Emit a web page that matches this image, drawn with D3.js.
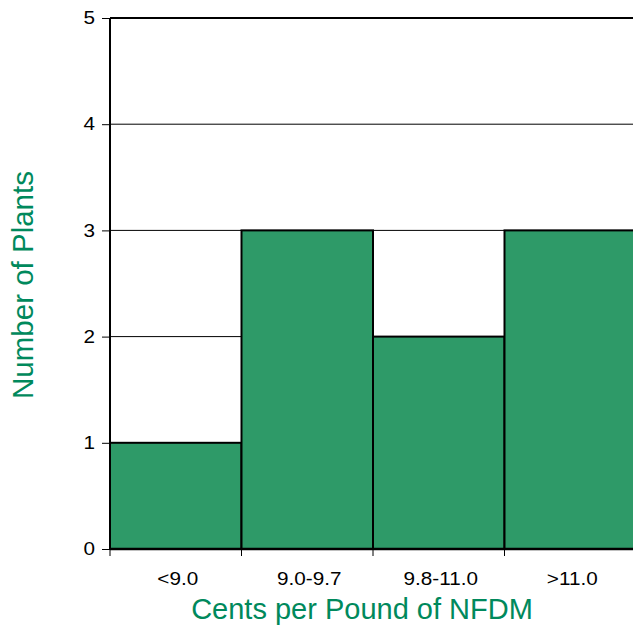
<!DOCTYPE html>
<html><head><meta charset="utf-8">
<script src="https://cdn.jsdelivr.net/npm/d3@7"></script>
<style>body{margin:0;background:#fff;}svg{display:block;font-family:"Liberation Sans",Arial,sans-serif;}</style>
</head><body>
<svg id="c" width="633" height="626"></svg>
<script>
const categories = ["<9.0", "9.0-9.7", "9.8-11.0", ">11.0"];
const values = [1, 3, 2, 3];
const yTicks = [0, 1, 2, 3, 4, 5];

const svg = d3.select("#c");
const L = 110, R = 636, T = 18, B = 549;
const x = d3.scaleBand().domain(categories).range([L, R]).padding(0);
const y = d3.scaleLinear().domain([0, 5]).range([B, T]);
const FONT = "Liberation Sans, Arial, sans-serif";

// gridlines
svg.append("g").selectAll("line").data(yTicks.filter(d => d > 0)).join("line")
  .attr("x1", L).attr("x2", R).attr("y1", d => y(d)).attr("y2", d => y(d))
  .attr("stroke", "#000").attr("stroke-width", d => d === 5 ? 2 : 1);

// bars
svg.append("g").selectAll("rect").data(values).join("rect")
  .attr("x", (d, i) => x(categories[i]))
  .attr("y", d => y(d))
  .attr("width", x.bandwidth())
  .attr("height", d => B - y(d))
  .attr("fill", "#2e9a68")
  .attr("stroke", "#000").attr("stroke-width", 2);

// left axis line
svg.append("line").attr("x1", L).attr("x2", L).attr("y1", T).attr("y2", B)
  .attr("stroke", "#000").attr("stroke-width", 2);

// y axis
const ya = svg.append("g").attr("transform", `translate(${L},0)`)
  .call(d3.axisLeft(y).tickValues(yTicks).tickSize(8).tickPadding(0).tickFormat(d3.format("d")));
ya.select(".domain").remove();
ya.selectAll("text").attr("x", null).attr("font-size", 18).attr("fill", "#000").attr("font-family", FONT)
  .attr("transform", "translate(-15,0) scale(1.15,1)");
ya.selectAll("line").attr("stroke", "#000");

// x axis
const xa = svg.append("g").attr("transform", `translate(0,${B})`)
  .call(d3.axisBottom(x).tickSize(0).tickPadding(0));
xa.select(".domain").remove();
xa.selectAll("text").attr("y", null).attr("dy", null).attr("font-size", 18).attr("fill", "#000").attr("font-family", FONT)
  .attr("transform", "translate(2,36) scale(1.15,1)");
// boundary ticks
const bounds = categories.map(c => x(c));
svg.append("g").selectAll("line").data(bounds).join("line")
  .attr("x1", d => d).attr("x2", d => d).attr("y1", B).attr("y2", B + 7)
  .attr("stroke", "#000");

// baseline
svg.append("line").attr("x1", L).attr("x2", R).attr("y1", B).attr("y2", B)
  .attr("stroke", "#000").attr("stroke-width", 2.5);

// titles
svg.append("text").attr("x", 362).attr("y", 619).attr("text-anchor", "middle")
  .attr("font-size", 29).attr("fill", "#00895c").text("Cents per Pound of NFDM");
svg.append("text").attr("transform", "translate(33,285) rotate(-90)").attr("text-anchor", "middle")
  .attr("font-size", 29.5).attr("fill", "#00895c").text("Number of Plants");
</script>
</body></html>
